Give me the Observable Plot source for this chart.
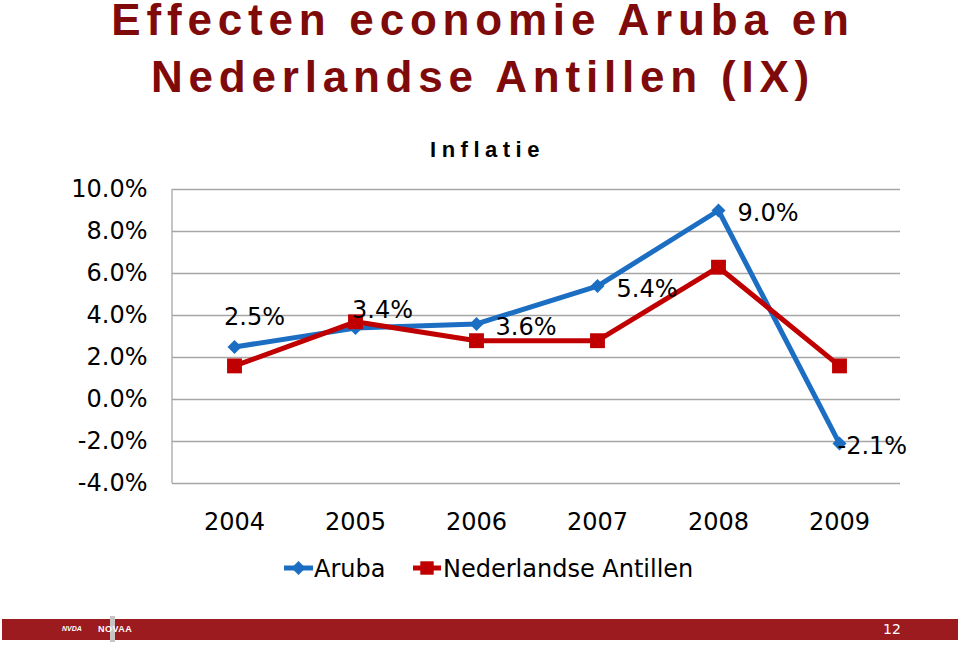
<!DOCTYPE html>
<html>
<head>
<meta charset="utf-8">
<script src="https://cdn.jsdelivr.net/npm/d3@7"></script>
<script src="https://cdn.jsdelivr.net/npm/@observablehq/plot@0.6"></script>
<style>
  html, body { margin: 0; padding: 0; background: #fff; }
  #wrap { position: relative; width: 960px; height: 654px; overflow: hidden; font-family: "DejaVu Sans", Verdana, sans-serif; }
  .title { position: absolute; left: 0; width: 960px; padding-left: 6px; box-sizing: border-box; text-align: center;
           font-family: "Liberation Sans", Arial, sans-serif; font-weight: bold; color: #7f0a0a;
           font-size: 44px; letter-spacing: 5.8px; line-height: 40px; white-space: nowrap; }
  #sub { position: absolute; left: 0; width: 970px; padding-left: 5px; box-sizing: border-box; text-align: center; top: 139px;
         font-family: "Liberation Sans", Arial, sans-serif; font-weight: bold; color: #000; font-size: 22px;
         letter-spacing: 5.5px; line-height: 22px; white-space: nowrap; }
  #chart { position: absolute; left: 0; top: 170px; }
  #legend { position: absolute; left: 0; top: 548px; }
  #footer { position: absolute; left: 2px; top: 619px; width: 956px; height: 21px; background: #9b1b1f; }
  #footer .logo1 { position: absolute; left: 60px; top: 6px; color: #fff; font: italic bold 7px "Liberation Sans", Arial, sans-serif; }
  #footer .bar { position: absolute; left: 108px; top: -3px; width: 5px; height: 26px; background: #c9c4c4; }
  #footer .logo2 { position: absolute; left: 96px; top: 5px; color: #fff; font: bold 9px "Liberation Sans", Arial, sans-serif; letter-spacing: 0.5px; }
  #footer .page { position: absolute; left: 881px; top: 2px; color: #fff; font: 14px "DejaVu Sans", sans-serif; }
</style>
</head>
<body>
<div id="wrap">
  <div class="title" style="top:0px">Effecten economie Aruba en</div>
  <div class="title" style="top:57px">Nederlandse Antillen (IX)</div>
  <div id="sub">Inflatie</div>
  <div id="chart"></div>
  <div id="legend"></div>
  <div id="footer">
    <span class="logo1">NVDA</span>
    <div class="bar"></div>
    <span class="logo2">NOVAA</span>
    <span class="page">12</span>
  </div>
</div>
<script>
// ---- data ----
const years = ["2004", "2005", "2006", "2007", "2008", "2009"];
const aruba = [2.5, 3.4, 3.6, 5.4, 9.0, -2.1];
const antillen = [1.6, 3.7, 2.8, 2.8, 6.3, 1.6];
const seriesNames = ["Aruba", "Nederlandse Antillen"];
const yTicks = [-4, -2, 0, 2, 4, 6, 8, 10];

const colors = ["#1b6ec2", "#c00000"];
const fmt = d => d.toFixed(1) + "%";

const arubaData = years.map((y, i) => ({year: y, value: aruba[i], series: seriesNames[0]}));
const antData = years.map((y, i) => ({year: y, value: antillen[i], series: seriesNames[1]}));

const leftLine = (index, scales, values, dims) => {
  const g = d3.create("svg:line")
    .attr("x1", dims.marginLeft).attr("x2", dims.marginLeft)
    .attr("y1", dims.marginTop).attr("y2", dims.height - dims.marginBottom)
    .attr("stroke", "#a6a6a6").attr("stroke-width", 1.3);
  return g.node();
};

const labelStyle = {x: "year", y: "value", text: d => fmt(d.value), fontSize: 24, fill: "#000"};

const plot = Plot.plot({
  width: 960,
  height: 373,
  marginTop: 19,
  marginBottom: 60,
  marginLeft: 172,
  marginRight: 60,
  style: {fontFamily: "'DejaVu Sans', Verdana, sans-serif", fontSize: "24px", color: "#000", background: "transparent"},
  x: {type: "point", domain: years, padding: 0.5, tickSize: 0, tickPadding: 29, label: null},
  y: {domain: [-4, 10], ticks: yTicks, tickFormat: fmt, tickSize: 0, tickPadding: 25, label: null},
  color: {domain: seriesNames, range: colors},
  marks: [
    Plot.ruleY(yTicks, {stroke: "#a6a6a6", strokeWidth: 1.3}),
    leftLine,
    Plot.line(arubaData, {x: "year", y: "value", stroke: "series", strokeWidth: 5, strokeLinejoin: "round"}),
    Plot.dot(arubaData, {x: "year", y: "value", fill: "series", symbol: "diamond2", r: 6.3, stroke: null}),
    Plot.line(antData, {x: "year", y: "value", stroke: "series", strokeWidth: 5, strokeLinejoin: "round"}),
    Plot.dot(antData, {x: "year", y: "value", fill: "series", symbol: "square", r: 8.4, stroke: null}),
    Plot.text(arubaData.filter((d, i) => i === 0), {...labelStyle, textAnchor: "middle", dx: 20, dy: -30}),
    Plot.text(arubaData.filter((d, i) => i === 1), {...labelStyle, textAnchor: "middle", dx: 27, dy: -18}),
    Plot.text(arubaData.filter((d, i) => i >= 2 && i <= 4), {...labelStyle, textAnchor: "start", dx: 19, dy: 3}),
    Plot.text(arubaData.filter((d, i) => i === 5), {...labelStyle, textAnchor: "start", dx: -2, dy: 3})
  ]
});
document.getElementById("chart").appendChild(plot);

// ---- legend ----
const leg = d3.select("#legend").append("svg").attr("width", 960).attr("height", 40)
  .style("font-family", "'DejaVu Sans', Verdana, sans-serif").style("font-size", "24px");
const legItems = [
  {name: seriesNames[0], color: colors[0], x0: 284, x1: 313, sym: d3.symbolDiamond2, size: 125, tx: 314},
  {name: seriesNames[1], color: colors[1], x0: 413, x1: 441, sym: d3.symbolSquare, size: 180, tx: 443}
];
const ly = 20;
legItems.forEach(it => {
  leg.append("line").attr("x1", it.x0).attr("x2", it.x1).attr("y1", ly).attr("y2", ly)
    .attr("stroke", it.color).attr("stroke-width", 5);
  leg.append("path").attr("d", d3.symbol(it.sym, it.size)())
    .attr("transform", `translate(${(it.x0 + it.x1) / 2},${ly})`).attr("fill", it.color);
  leg.append("text").attr("x", it.tx).attr("y", ly).attr("dy", "0.36em").attr("fill", "#000").text(it.name);
});
</script>
</body>
</html>
